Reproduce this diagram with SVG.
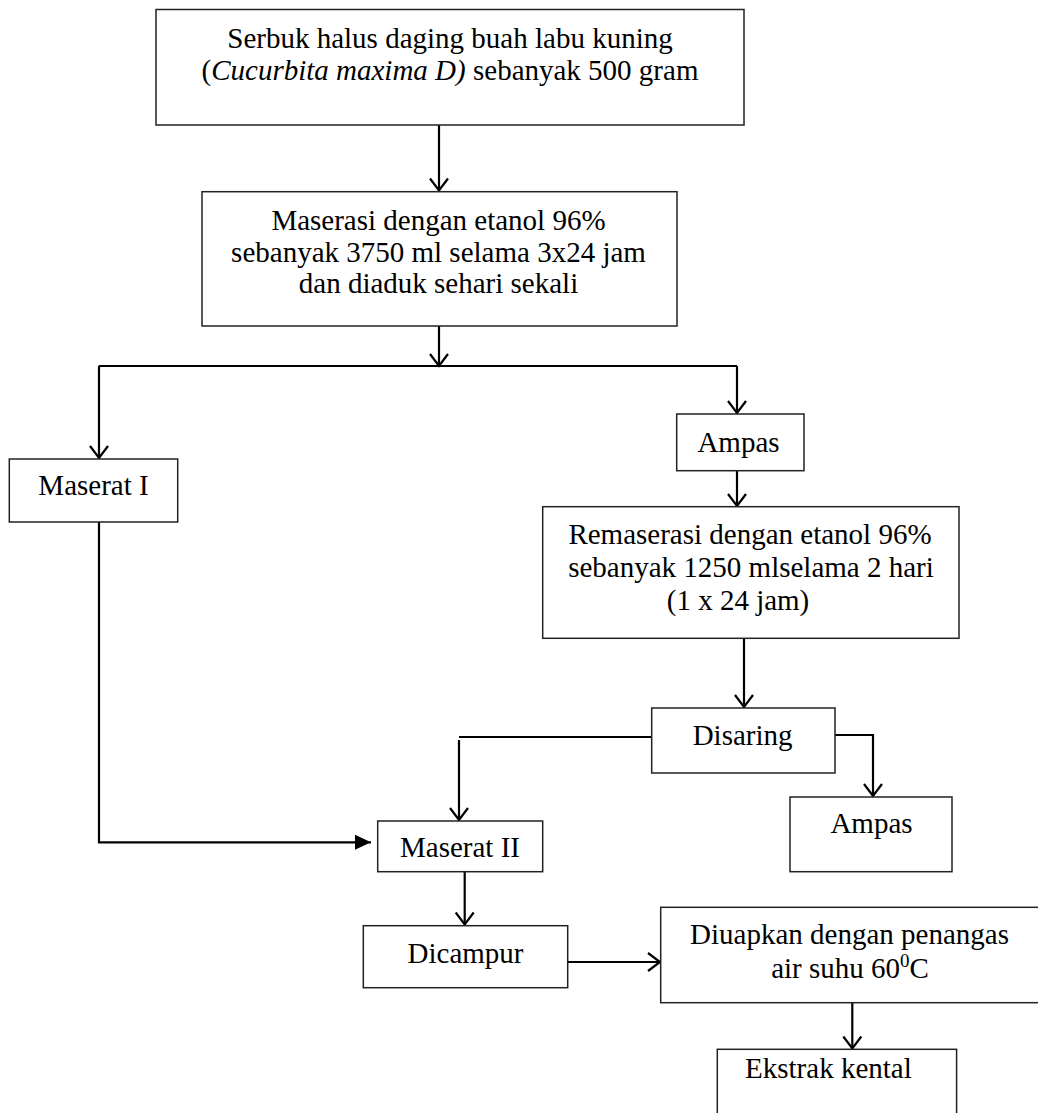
<svg xmlns="http://www.w3.org/2000/svg" width="1038" height="1113" viewBox="0 0 1038 1113">
<style>
  .box { fill: #ffffff; stroke: #222222; stroke-width: 1.5; }
  .lbl { font-family: "Liberation Serif", "Times New Roman", serif; font-size: 29px; fill: #000000; text-anchor: middle; }
  .con { fill: none; stroke: #000000; stroke-width: 2.2; }
  .open { marker-end: url(#openArrow); }
  .filled { marker-end: url(#filledArrow); }
</style>
<defs>
  <marker id="openArrow" viewBox="-14 -11 16 22" refX="0" refY="0" markerWidth="16" markerHeight="22" markerUnits="userSpaceOnUse" orient="auto" overflow="visible">
    <path d="M -12,-9 L 0,0 L -12,9" fill="none" stroke="#000000" stroke-width="2.2"/>
  </marker>
  <marker id="filledArrow" viewBox="-18 -9 20 18" refX="0" refY="0" markerWidth="20" markerHeight="18" markerUnits="userSpaceOnUse" orient="auto" overflow="visible">
    <path d="M -16,-7.5 L 0,0 L -16,7.5 Z" fill="#000000" stroke="none"/>
  </marker>
</defs>
<rect width="1038" height="1113" fill="#ffffff"/>

<g id="connectors">
  <line class="con open" x1="439" y1="125" x2="439" y2="190.5"/>
  <line class="con open" x1="439" y1="326" x2="439" y2="366"/>
  <line class="con" x1="98.7" y1="366" x2="737" y2="366"/>
  <line class="con open" x1="99" y1="366" x2="99" y2="458"/>
  <line class="con open" x1="737" y1="366" x2="737" y2="413"/>
  <line class="con open" x1="737" y1="470.7" x2="737" y2="506"/>
  <line class="con open" x1="744" y1="638.3" x2="744" y2="707"/>
  <path class="con" d="M 651.7,737 L 459,737"/>
  <line class="con open" x1="459" y1="740" x2="459" y2="820"/>
  <path class="con open" d="M 835,735 L 873,735 L 873,796"/>
  <path class="con filled" d="M 99,522 L 99,842.3 L 371,842.3"/>
  <line class="con open" x1="464.7" y1="871.7" x2="464.7" y2="924.5"/>
  <line class="con open" x1="567.7" y1="962" x2="660" y2="962"/>
  <line class="con open" x1="852.3" y1="1002.7" x2="852.3" y2="1048.5"/>
</g>

<g id="node-serbuk">
  <rect class="box" x="156" y="9.5" width="588" height="115.5"/>
  <text class="lbl" x="450" y="47.5">Serbuk halus daging buah labu kuning</text>
  <text class="lbl" x="450" y="80">(<tspan font-style="italic">Cucurbita maxima D)</tspan> sebanyak 500 gram</text>
</g>

<g id="node-maserasi">
  <rect class="box" x="202" y="191.7" width="475" height="134.3"/>
  <text class="lbl" x="438.5" y="230">Maserasi dengan etanol 96%</text>
  <text class="lbl" x="438.5" y="261.7">sebanyak 3750 ml selama 3x24 jam</text>
  <text class="lbl" x="438.5" y="293.3">dan diaduk sehari sekali</text>
</g>

<g id="node-maserat1">
  <rect class="box" x="9.3" y="459" width="168.4" height="63"/>
  <text class="lbl" x="93.5" y="495">Maserat I</text>
</g>

<g id="node-ampas1">
  <rect class="box" x="676.7" y="414" width="127.3" height="56.7"/>
  <text class="lbl" x="738.5" y="451.7">Ampas</text>
</g>

<g id="node-remaserasi">
  <rect class="box" x="542.7" y="506.7" width="416.3" height="131.6"/>
  <text class="lbl" x="750" y="544">Remaserasi dengan etanol 96%</text>
  <text class="lbl" x="751" y="577">sebanyak 1250 mlselama 2 hari</text>
  <text class="lbl" x="738" y="610">(1 x 24 jam)</text>
</g>

<g id="node-disaring">
  <rect class="box" x="651.7" y="708" width="183.3" height="65"/>
  <text class="lbl" x="742.6" y="745">Disaring</text>
</g>

<g id="node-ampas2">
  <rect class="box" x="790" y="797" width="162" height="74.7"/>
  <text class="lbl" x="871.5" y="833">Ampas</text>
</g>

<g id="node-maserat2">
  <rect class="box" x="377.7" y="821" width="165" height="50.7"/>
  <text class="lbl" x="460" y="857">Maserat II</text>
</g>

<g id="node-dicampur">
  <rect class="box" x="363.3" y="925.7" width="204.4" height="62"/>
  <text class="lbl" x="465.5" y="962.7">Dicampur</text>
</g>

<g id="node-diuapkan">
  <rect class="box" x="660.7" y="907.3" width="400" height="95.4"/>
  <text class="lbl" x="849.5" y="944.3">Diuapkan dengan penangas</text>
  <text class="lbl" x="850" y="978">air suhu 60<tspan dy="-11" font-size="19px">0</tspan><tspan dy="11">C</tspan></text>
</g>

<g id="node-ekstrak">
  <rect class="box" x="717.3" y="1049.3" width="239.3" height="100"/>
  <text class="lbl" x="828.4" y="1078">Ekstrak kental</text>
</g>
</svg>
